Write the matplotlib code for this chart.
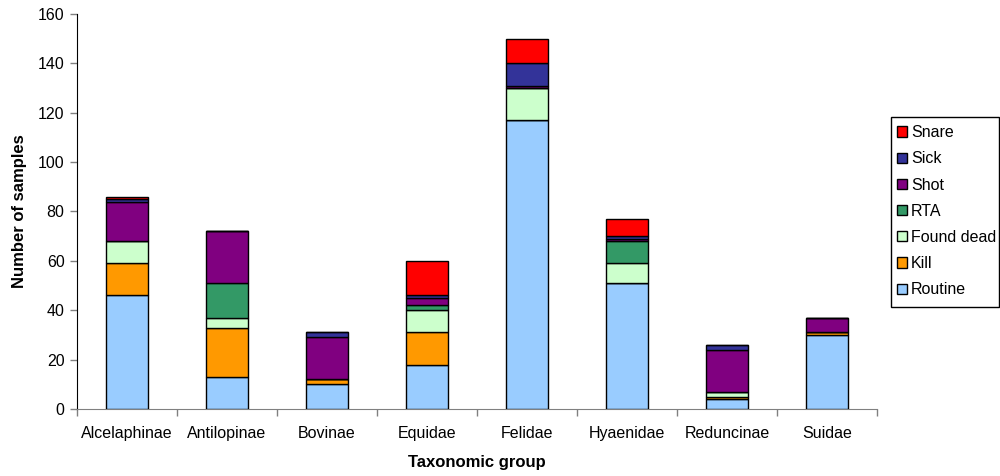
import matplotlib
matplotlib.use("Agg")
import matplotlib.pyplot as plt
from matplotlib.patches import Rectangle
import numpy as np

plt.rcParams['font.family'] = ['Liberation Sans', 'DejaVu Sans']

groups = ["Alcelaphinae", "Antilopinae", "Bovinae", "Equidae",
          "Felidae", "Hyaenidae", "Reduncinae", "Suidae"]

routine    = [46, 13, 10, 18, 117, 51, 4, 30]
kill       = [13, 20, 2, 13, 0, 0, 1, 1]
found_dead = [9, 4, 0, 9, 13, 8, 2, 0]
rta        = [0, 14, 0, 2, 0, 9, 0, 0]
shot       = [16, 21, 17, 3, 1, 1, 17, 6]
sick       = [1, 0, 2, 1, 9, 1, 2, 0]
snare      = [1, 0, 0, 14, 10, 7, 0, 0]

series = [
    ("Routine", routine, "#99ccff"),
    ("Kill", kill, "#ff9900"),
    ("Found dead", found_dead, "#ccffcc"),
    ("RTA", rta, "#339966"),
    ("Shot", shot, "#800080"),
    ("Sick", sick, "#333399"),
    ("Snare", snare, "#ff0000"),
]

fig = plt.figure(figsize=(10, 4.76), dpi=100)
ax = fig.add_axes([0.077, 0.1408, 0.800, 0.8298])

x = np.arange(len(groups))
bottom = np.zeros(len(groups))
handles = []
for name, vals, color in series:
    vals = np.array(vals, dtype=float)
    b = ax.bar(x, vals, width=0.42, bottom=bottom, color=color,
               edgecolor="black", linewidth=1.0, label=name, zorder=3)
    handles.append(b)
    bottom += vals

ax.set_xlim(-0.5, len(groups) - 0.5)
ax.set_ylim(0, 160)
ax.set_yticks(np.arange(0, 161, 20))

# category labels centred, ticks between categories
ax.set_xticks(x)
ax.set_xticklabels(groups, fontsize=11.5)
ax.tick_params(axis="x", which="major", length=0, pad=12)
ax.set_xticks(np.arange(-0.5, len(groups)), minor=True)
ax.tick_params(axis="x", which="minor", length=5, direction="out",
               color="#808080", width=1)
ax.tick_params(axis="y", length=5, direction="out", color="#808080",
               width=1, labelsize=11.5, pad=4)

for side in ("top", "right"):
    ax.spines[side].set_visible(False)
ax.spines["left"].set_color("black")
ax.spines["bottom"].set_color("#808080")

ax.set_xlabel("Taxonomic group", fontsize=12, fontweight="bold", labelpad=10)
ax.set_ylabel("Number of samples", fontsize=12, fontweight="bold", labelpad=8)

# legend box drawn separately so it can sit flush with the figure edge
fig.patches.append(Rectangle((0.891, 0.355), 0.108, 0.399,
                             transform=fig.transFigure, facecolor="white",
                             edgecolor="black", linewidth=1.0, zorder=1))
leg = fig.legend(handles[::-1], [s[0] for s in series][::-1],
                 loc="upper left", bbox_to_anchor=(0.897, 0.737),
                 fontsize=11.5, frameon=False,
                 handlelength=0.6, handleheight=0.6,
                 handletextpad=0.28, labelspacing=0.7, borderpad=0,
                 borderaxespad=0)
leg.set_zorder(2)

fig.savefig("out.png", dpi=100, facecolor="white")
